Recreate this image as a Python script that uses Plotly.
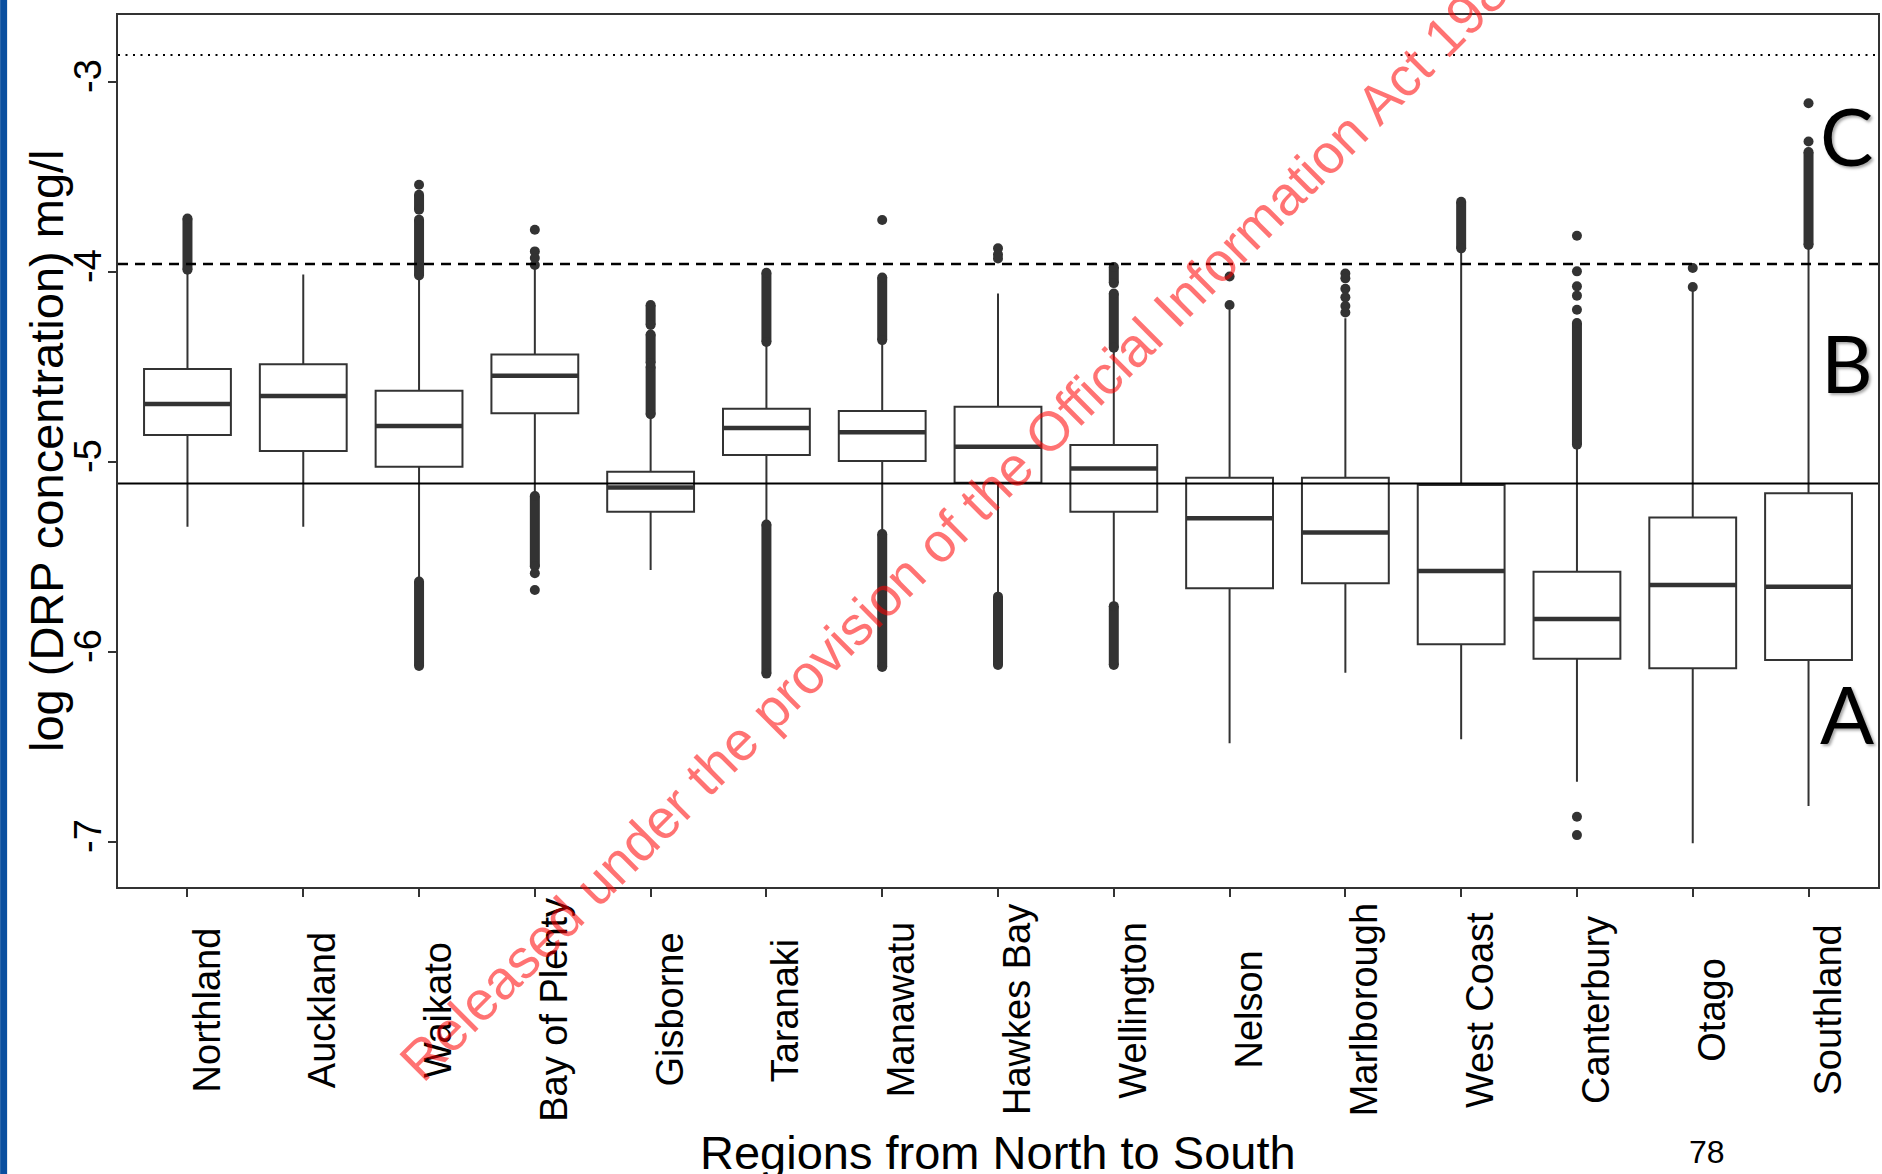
import plotly.graph_objects as go

# Regions, ordered north to south
regions = ["Northland", "Auckland", "Waikato", "Bay of Plenty", "Gisborne", "Taranaki",
           "Manawatu", "Hawkes Bay", "Wellington", "Nelson", "Marlborough", "West Coast",
           "Canterbury", "Otago", "Southland"]

# Box-plot statistics of log(DRP concentration), mg/l
lower_whisker = [-5.342, -5.342, -5.623, -5.170, -5.570, -5.330, -5.377, -5.707,
                 -5.763, -6.482, -6.111, -6.461, -6.684, -7.008, -6.812]
q1 = [-4.859, -4.944, -5.026, -4.745, -5.263, -4.965, -4.996, -5.111,
      -5.263, -5.666, -5.640, -5.961, -6.037, -6.087, -6.044]
median = [-4.696, -4.654, -4.812, -4.547, -5.135, -4.823, -4.845, -4.921,
          -5.035, -5.298, -5.372, -5.575, -5.828, -5.649, -5.658]
q3 = [-4.512, -4.487, -4.626, -4.435, -5.053, -4.721, -4.733, -4.711,
      -4.912, -5.084, -5.084, -5.123, -5.579, -5.293, -5.166]
upper_whisker = [-3.995, -4.014, -4.026, -3.974, -4.754, -4.377, -4.363, -4.114,
                 -4.403, -4.200, -4.245, -3.877, -4.912, -4.100, -3.859]

# Outliers: closely packed runs (region, from, to) and isolated points (region, value)
outlier_runs = [
    ("Northland", -3.99, -3.72),
    ("Waikato", -4.02, -3.726), ("Waikato", -3.674, -3.595), ("Waikato", -5.63, -6.075),
    ("Bay of Plenty", -5.18, -5.55),
    ("Gisborne", -4.75, -4.50), ("Gisborne", -4.48, -4.33), ("Gisborne", -4.28, -4.175),
    ("Taranaki", -4.37, -4.005), ("Taranaki", -5.33, -6.115),
    ("Manawatu", -4.36, -4.03), ("Manawatu", -5.38, -6.08),
    ("Hawkes Bay", -5.71, -6.07),
    ("Wellington", -4.40, -4.115), ("Wellington", -4.06, -3.975), ("Wellington", -5.76, -6.07),
    ("West Coast", -3.877, -3.632),
    ("Canterbury", -4.91, -4.27),
    ("Southland", -3.859, -3.37),
]
outlier_points = [
    ("Waikato", -3.542),
    ("Bay of Plenty", -3.779), ("Bay of Plenty", -3.893), ("Bay of Plenty", -3.928),
    ("Bay of Plenty", -3.965), ("Bay of Plenty", -5.587), ("Bay of Plenty", -5.675),
    ("Manawatu", -3.728),
    ("Hawkes Bay", -3.877), ("Hawkes Bay", -3.91), ("Hawkes Bay", -3.93),
    ("Nelson", -4.175), ("Nelson", -4.025),
    ("Marlborough", -4.01), ("Marlborough", -4.035), ("Marlborough", -4.09),
    ("Marlborough", -4.135), ("Marlborough", -4.18), ("Marlborough", -4.215),
    ("Canterbury", -4.20), ("Canterbury", -4.126), ("Canterbury", -4.077),
    ("Canterbury", -3.998), ("Canterbury", -3.811), ("Canterbury", -6.868),
    ("Canterbury", -6.965),
    ("Otago", -4.08), ("Otago", -3.98),
    ("Southland", -3.315), ("Southland", -3.113),
]

# Attribute band limits (A/B, B/C, upper C) and band letters
band_limits = [-5.114, -3.96, -2.86]
band_letters = ["A", "B", "C"]

y_ticks = [-7, -6, -5, -4, -3]
y_tick_labels = ["-7", "-6", "-5", "-4", "-3"]

# ---- styling ----
INK = "#333333"
BOX_W = 0.75
FONT = "Liberation Sans, Arial, sans-serif"
band_styles = [dict(dash="solid", width=2),
               dict(dash="10px,7px", width=2.5),
               dict(dash="2px,5.5px", width=2)]
letter_y = [-6.32, -4.475, -3.28]
letter_x = 14.33

xpos = {name: i for i, name in enumerate(regions)}

fig = go.Figure()

fig.add_trace(go.Box(
    x=list(range(len(regions))), q1=q1, median=median, q3=q3,
    lowerfence=lower_whisker, upperfence=upper_whisker,
    width=BOX_W, whiskerwidth=0, boxpoints=False,
    fillcolor="white", line=dict(color=INK, width=2),
    hoverinfo="skip",
))

# thicker median bars
mx, my = [], []
for i, m in enumerate(median):
    mx += [i - BOX_W / 2, i + BOX_W / 2, None]
    my += [m, m, None]
fig.add_trace(go.Scatter(x=mx, y=my, mode="lines",
                         line=dict(color=INK, width=4.5), hoverinfo="skip"))

# packed outlier runs
rx, ry = [], []
for name, lo, hi in outlier_runs:
    rx += [xpos[name], xpos[name], None]
    ry += [lo, hi, None]
fig.add_trace(go.Scatter(x=rx, y=ry, mode="lines+markers",
                         line=dict(color=INK, width=10),
                         marker=dict(color=INK, size=10), hoverinfo="skip"))

# isolated outliers
fig.add_trace(go.Scatter(x=[xpos[n] for n, _ in outlier_points],
                         y=[v for _, v in outlier_points], mode="markers",
                         marker=dict(color=INK, size=10), hoverinfo="skip"))

for yv, st in zip(band_limits, band_styles):
    fig.add_shape(type="line", xref="paper", x0=0, x1=1, y0=yv, y1=yv,
                  line=dict(color="black", width=st["width"], dash=st["dash"]),
                  layer="above")

annotations = []
for i, name in enumerate(regions):
    annotations.append(dict(x=i, y=-0.141, xref="x", yref="paper", text=name,
                            textangle=-90, showarrow=False, xanchor="center",
                            yanchor="middle", xshift=19,
                            font=dict(size=38, family=FONT, color="black")))

annotations.append(dict(x=-0.0409, y=0.5, xref="paper", yref="paper",
                        xanchor="center", yanchor="middle",
                        text="log (DRP concentration) mg/l", textangle=-90,
                        showarrow=False, font=dict(size=47, family=FONT, color="black")))
annotations.append(dict(x=0.5, y=-0.305, xref="paper", yref="paper",
                        xanchor="center", yanchor="middle",
                        text="Regions from North to South", showarrow=False,
                        font=dict(size=47, family=FONT, color="black")))
annotations.append(dict(x=0.903, y=-0.304, xref="paper", yref="paper", text="78",
                        xanchor="center", yanchor="middle", showarrow=False,
                        font=dict(size=32, family="Liberation Sans Narrow, " + FONT,
                                  color="black")))

for letter, ly in zip(band_letters, letter_y):
    annotations.append(dict(x=letter_x, y=ly, xref="x", yref="y", text=letter,
                            xanchor="center", yanchor="middle", showarrow=False,
                            font=dict(size=80, family="Lato, Open Sans, sans-serif",
                                      color="black",
                                      shadow="2px 2px 3px rgba(0,0,0,0.35)")))

annotations.append(dict(x=0.481, y=0.4249, xref="paper", yref="paper",
                        xanchor="center", yanchor="middle",
                        text="Released under the provision of the Official Information Act 1982",
                        textangle=-45, showarrow=False,
                        font=dict(size=55, family=FONT, color="rgba(255,0,0,0.55)")))

# slide edge bar
fig.add_shape(type="rect", xref="paper", yref="paper",
              x0=-118 / 1762, x1=(7 - 118) / 1762, y0=-0.34, y1=1.03,
              fillcolor="#0a4f9f", line=dict(width=0), layer="below")

axis_common = dict(showline=True, linecolor=INK, linewidth=2, mirror=True,
                   ticks="outside", ticklen=8, tickwidth=2, tickcolor=INK,
                   showgrid=False, zeroline=False)

fig.update_xaxes(range=[-0.6, 14.6], tickvals=list(range(len(regions))),
                 showticklabels=False, **axis_common)
fig.update_yaxes(range=[-7.238, -2.649], tickvals=y_ticks, ticktext=y_tick_labels,
                 tickangle=-90, ticklabelstandoff=-8,
                 tickfont=dict(size=38, family=FONT, color="black"),
                 **axis_common)

fig.update_layout(width=1882, height=1174, autosize=False,
                  margin=dict(l=118, r=2, t=15, b=287, pad=0),
                  paper_bgcolor="white", plot_bgcolor="white",
                  showlegend=False, annotations=annotations,
                  font=dict(family=FONT, color="black"))

fig.write_html("out.html", post_script="document.body.style.margin='0';")
